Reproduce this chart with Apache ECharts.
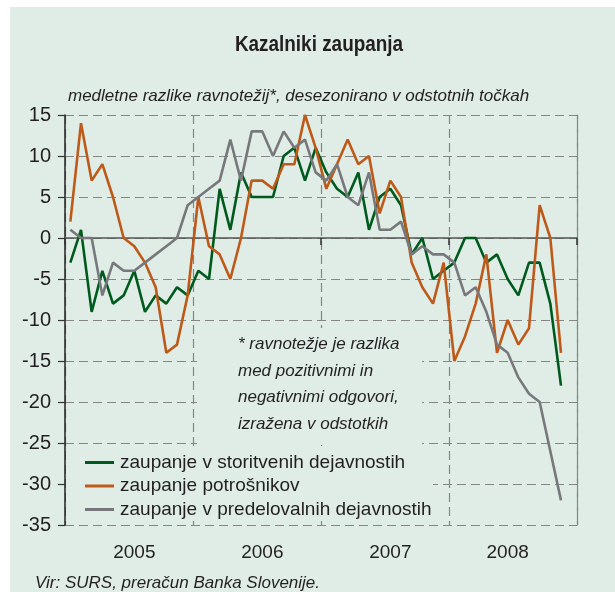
<!DOCTYPE html>
<html>
<head>
<meta charset="utf-8">
<script src="https://cdn.jsdelivr.net/npm/echarts@6/dist/echarts.min.js"></script>
<style>
body { margin: 0; background: #fff; }
#wrap { position: relative; width: 615px; height: 601px; }
#bg { position: absolute; left: 10px; top: 7px; width: 605px; height: 585px; background: #dfede6; }
#chart { position: absolute; left: 0; top: 0; width: 615px; height: 601px; }
</style>
</head>
<body>
<div id="wrap"><div id="bg"></div><div id="chart"></div></div>
<script>
var years = ['2005', '2006', '2007', '2008'];
var yearLabelIdx = [6, 18, 30, 41];

var storitve = [
	-3, 1, -9, -4, -8, -7, -4, -9, -7, -8, -6, -7,
	-4, -5, 6, 1, 8, 5, 5, 5, 10, 11, 7, 11,
	8, 6, 5, 8, 1, 5, 6, 4, -2, 0, -5, -4,
	-3, 0, 0, -3, -2, -5, -7, -3, -3, -8, -18
];
var potrosniki = [
	2, 14, 7, 9, 5, 0, -1, -3, -6, -14, -13, -7,
	5, -1, -2, -5, 0, 7, 7, 6, 9, 9, 15, 11,
	6, 9, 12, 9, 10, 3, 7, 5, -3, -6, -8, -3,
	-15, -12, -8, -2, -14, -10, -13, -11, 4, 0, -14
];
var predelovalne = [
	1, 0, 0, -7, -3, -4, -4, -3, -2, -1, 0, 4,
	5, 6, 7, 12, 7, 13, 13, 10, 13, 11, 12, 8,
	7, 9, 5, 4, 8, 1, 1, 2, -2, -1, -2, -2,
	-3, -7, -6, -9, -13, -14, -17, -19, -20, -26, -32
];

var names = [
	'zaupanje v storitvenih dejavnostih',
	'zaupanje potrošnikov',
	'zaupanje v predelovalnih dejavnostih'
];

var months = [];
years.forEach(function (y) {
	for (var m = 1; m <= 12; m++) {
		months.push(y + '-' + (m < 10 ? '0' + m : m));
	}
});

var font = '"Liberation Sans", Arial, sans-serif';
var bg = '#dfede6';
var gridColor = '#858585';
var txt = '#231f20';

var chart = echarts.init(document.getElementById('chart'));

function yearTick(i) {
	return i % 12 === 0;
}

var option = {
	backgroundColor: 'transparent',
	animation: false,
	textStyle: { fontFamily: font },
	title: [
		{
			text: 'medletne razlike ravnotežij*, desezonirano v odstotnih točkah',
			left: 68, top: 88, padding: 0,
			textStyle: { fontFamily: font, fontStyle: 'italic', fontWeight: 'normal', fontSize: 17, color: txt }
		},
		{
			text: 'Vir: SURS, preračun Banka Slovenije.',
			left: 35, top: 575, padding: 0,
			textStyle: { fontFamily: font, fontStyle: 'italic', fontWeight: 'normal', fontSize: 17, color: txt }
		}
	],
	grid: { left: 65, right: 38, top: 115, bottom: 76, containLabel: false },
	legend: {
		orient: 'vertical',
		left: 85, top: 453,
		padding: 0,
		itemGap: 4.5,
		itemWidth: 29, itemHeight: 3,
		icon: 'rect',
		textStyle: { fontFamily: font, fontSize: 19, lineHeight: 19, color: txt, padding: [0, 0, 0, 1] },
		data: names
	},
	xAxis: [
		{
			type: 'category',
			data: months,
			position: 'bottom',
			boundaryGap: true,
			axisLine: { show: false, onZero: false },
			axisTick: { show: false },
			axisLabel: {
				interval: 0,
				margin: 18,
				fontSize: 19,
				color: txt,
				formatter: function (v, i) {
					var k = yearLabelIdx.indexOf(i);
					return k >= 0 ? years[k] : '';
				}
			},
			splitLine: {
				show: true,
				interval: yearTick,
				lineStyle: { color: gridColor, type: [9, 5], width: 1.2 }
			}
		},
		{
			type: 'category',
			data: months,
			position: 'bottom',
			boundaryGap: true,
			axisLine: { show: true, onZero: true, lineStyle: { color: '#555', width: 1.5 } },
			axisTick: { show: true, interval: yearTick, length: 7, lineStyle: { color: '#333', width: 1.5 } },
			axisLabel: { show: false },
			splitLine: { show: false }
		}
	],
	yAxis: [
		{
			type: 'value',
			min: -35, max: 15, interval: 5,
			axisLine: { show: true, onZero: false, lineStyle: { color: '#222', width: 1.5 } },
			axisTick: { show: true, length: 7, lineStyle: { color: '#333', width: 1.2 } },
			axisLabel: { fontSize: 20, color: txt, margin: 14 },
			splitLine: { show: true, lineStyle: { color: gridColor, type: [9, 5], width: 1.2 } }
		},
		{
			type: 'value',
			min: -35, max: 15, interval: 5,
			position: 'right',
			axisLine: { show: true, onZero: false, lineStyle: { color: gridColor, type: [9, 5], width: 1.2 } },
			axisTick: { show: false },
			axisLabel: { show: false },
			splitLine: { show: false }
		}
	],
	graphic: [
		// title in a condensed bold face
		{
			type: 'text', z: 5, x: 319, y: 45, scaleX: 0.86,
			style: {
				text: 'Kazalniki zaupanja',
				font: 'bold 22px ' + font,
				textAlign: 'center', textVerticalAlign: 'middle',
				fill: txt
			}
		},
		// patches that hide the grid behind the note and the legend
		{ type: 'rect', z: 1, silent: true, shape: { x: 197, y: 328, width: 225, height: 117 }, style: { fill: bg } },
		{ type: 'rect', z: 1, silent: true, shape: { x: 66, y: 446, width: 367, height: 75 }, style: { fill: bg } },
		{
			type: 'text', z: 5, left: 238, top: 331,
			style: {
				text: '* ravnotežje je razlika\nmed pozitivnimi in\nnegativnimi odgovori,\nizražena v odstotkih',
				font: 'italic 17px ' + font,
				lineHeight: 26.7,
				fill: txt
			}
		}
	],
	series: [
		{ name: names[0], type: 'line', data: storitve, symbol: 'none', color: '#005a1e', lineStyle: { width: 2.6 }, z: 3 },
		{ name: names[1], type: 'line', data: potrosniki, symbol: 'none', color: '#be5a19', lineStyle: { width: 2.6 }, z: 3 },
		{ name: names[2], type: 'line', data: predelovalne, symbol: 'none', color: '#78787c', lineStyle: { width: 2.6 }, z: 3 }
	]
};

chart.setOption(option);
</script>
</body>
</html>
